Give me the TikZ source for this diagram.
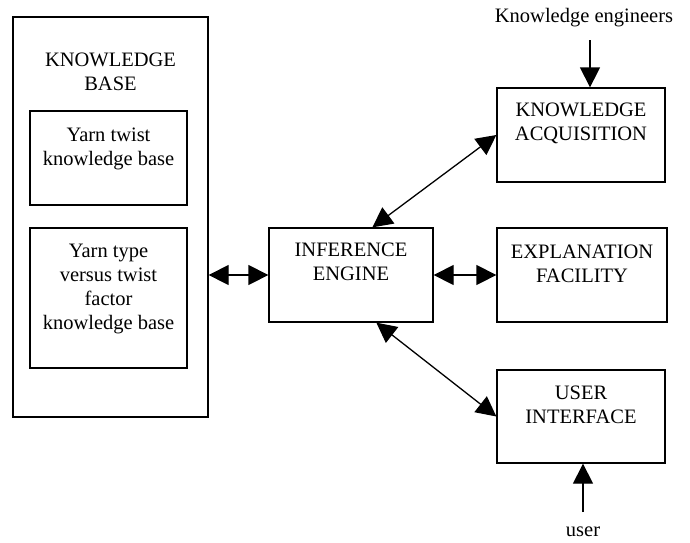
\documentclass[tikz,border=0pt]{standalone}
\usepackage{fontspec}
\setmainfont{Liberation Serif}
\usetikzlibrary{arrows.meta}
\begin{document}
\begin{tikzpicture}[x=1pt,y=-1pt,
  box/.style={draw, line width=1.3pt, inner sep=0pt},
  txt/.style={anchor=north, align=center, inner sep=0pt, font=\fontsize{20.5}{24}\selectfont},
  lbl/.style={anchor=base, inner sep=0pt, font=\fontsize{20.5}{24}\selectfont},
  conn/.style={line width=1.3pt, {Triangle[length=20pt,width=20pt]}-{Triangle[length=20pt,width=20pt]}},
  inarr/.style={line width=1.3pt, -{Triangle[length=20pt,width=20pt]}}]
\useasboundingbox (0,0) rectangle (690,542);
% boxes
\node[box, minimum width=195pt, minimum height=400pt] (kb) at (110.5,217) {};
\node[box, minimum width=157pt, minimum height=94pt] (yt) at (108.5,158) {};
\node[box, minimum width=157pt, minimum height=140pt] (yv) at (108.5,298) {};
\node[box, minimum width=164pt, minimum height=94pt] (ie) at (351,275) {};
\node[box, minimum width=168pt, minimum height=94pt] (ka) at (581,135) {};
\node[box, minimum width=170pt, minimum height=94pt] (ef) at (582,275) {};
\node[box, minimum width=168pt, minimum height=93pt] (ui) at (581,416.5) {};
% texts
\node[txt] (kbt) at ([yshift=-36pt]kb.north) {KNOWLEDGE\\BASE};
\node[txt] (ytt) at ([yshift=-17pt]yt.north) {Yarn twist\\knowledge base};
\node[txt] (yvt) at ([yshift=-17pt]yv.north) {Yarn type\\versus twist\\factor\\knowledge base};
\node[txt] (iet) at ([yshift=-15pt]ie.north) {INFERENCE\\ENGINE};
\node[txt] (kat) at ([yshift=-15pt]ka.north) {KNOWLEDGE\\ACQUISITION};
\node[txt] (eft) at ([yshift=-17pt]ef.north) {EXPLANATION\\FACILITY};
\node[txt] (uit) at ([yshift=-16pt]ui.north) {USER\\INTERFACE};
\node[lbl] (ke) at (584,22) {Knowledge engineers};
\node[lbl] (us) at (583,536) {user};
% connectors
\coordinate (keend) at (590,40);
\coordinate (usend) at (583,512);
\draw[conn] (kb.east |- ie.west) -- (ie.west);
\draw[conn] (ie.east) -- (ef.west);
\draw[conn] ([xshift=104pt]ie.north west) -- (ka.west);
\draw[conn] ([xshift=108pt]ie.south west) -- (ui.west);
\draw[inarr] (keend) -- (keend |- ka.north);
\draw[inarr] (usend) -- (usend |- ui.south);
\end{tikzpicture}
\end{document}
